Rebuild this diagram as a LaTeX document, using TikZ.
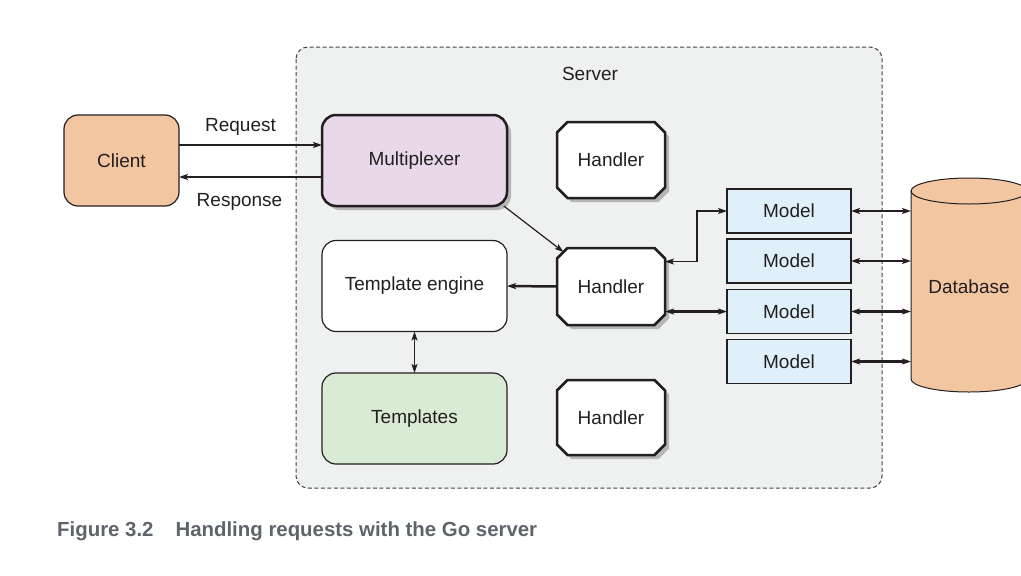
\documentclass[tikz,border=0pt]{standalone}
\usepackage{fontspec}
\setmainfont{Liberation Sans}
\usetikzlibrary{shapes.misc,shapes.geometric,arrows.meta,shadows}
\definecolor{ink}{HTML}{231F20}
\definecolor{srvfill}{HTML}{EFF0F0}
\definecolor{peach}{HTML}{F2C6A0}
\definecolor{lav}{HTML}{E8D8EA}
\definecolor{mint}{HTML}{D9EBD4}
\definecolor{skyb}{HTML}{DFF0FB}
\definecolor{capgray}{HTML}{5F646B}
\begin{document}
\begin{tikzpicture}[x=1pt,y=-1pt,
  font=\fontsize{19}{22}\selectfont,
  every node/.style={text=ink},
  tip/.style={-{Stealth[length=9pt,width=6pt,inset=2pt]}},
  twotip/.style={{Stealth[length=9pt,width=6pt,inset=2pt]}-{Stealth[length=9pt,width=6pt,inset=2pt]}},
  rbox/.style={draw=ink,rounded corners=14pt,inner sep=0pt,outer sep=0pt,minimum width=185pt,minimum height=91pt},
  hbox/.style={chamfered rectangle,chamfered rectangle xsep=15pt,draw=ink,fill=white,line width=2.5pt,inner sep=0pt,outer sep=0pt,minimum width=108pt,minimum height=76pt,
    drop shadow={shadow xshift=4pt,shadow yshift=-4pt,opacity=0.35,fill=black!70}},
  mbox/.style={draw=ink,fill=skyb,line width=1.3pt,inner sep=0pt,outer sep=0pt,minimum width=124pt,minimum height=44pt},
  conn/.style={draw=ink,line width=1.5pt}
]
\useasboundingbox (0,0) rectangle (1021,576);
% server
\draw[draw=ink!85,fill=srvfill,dashed,dash pattern=on 4pt off 2.5pt,line width=1pt,rounded corners=12pt] (296,47) rectangle (882,488);
\node (srv) at (590,74) {Server};
% client
\node[rbox,fill=peach,line width=1.2pt,minimum width=115pt] (client) at (121.5,160.5) {Client};
% multiplexer
\node[rbox,fill=lav,line width=2.5pt,drop shadow={shadow xshift=4pt,shadow yshift=-4pt,opacity=0.35,fill=black!70}] (mux) at (414.5,160.5) {Multiplexer};
% template engine & templates
\node[rbox,fill=white,line width=1.2pt] (te) at (414.5,286) {Template engine};
\node[rbox,fill=mint,line width=1.2pt] (tpl) at (414.5,418.5) {Templates};
% handlers
\node[hbox] (h1) at (611,160) {Handler};
\node[hbox,minimum height=77pt] (h2) at (611,286.5) {Handler};
\node[hbox,minimum height=75pt] (h3) at (611,417.5) {Handler};
% models
\node[mbox] (m1) at (789,211) {Model};
\node[mbox] (m2) at (789,261) {Model};
\node[mbox] (m3) at (789,311.5) {Model};
\node[mbox] (m4) at (789,361.5) {Model};
% database (cylinder drawn directly)
\path[draw=ink,fill=peach,line width=1pt] (911,191) -- (911,379)
  arc[start angle=180,end angle=360,x radius=58pt,y radius=13pt] -- (1027,191)
  arc[start angle=0,end angle=180,x radius=58pt,y radius=13pt] -- cycle;
\draw[draw=ink,line width=1pt] (911,191) arc[start angle=180,end angle=360,x radius=58pt,y radius=13pt];
\node (db) at (969,287) {Database};
\coordinate (dbw) at (911,287);
% connectors
\draw[conn,tip] ([yshift=15.5pt]client.east) -- ([yshift=15.5pt]mux.west) node[midway,above=5pt,xshift=-10pt] {Request};
\draw[conn,tip] ([yshift=-16.5pt]mux.west) -- ([yshift=-16.5pt]client.east) node[midway,below=12pt,xshift=-11pt] {Response};
\draw[draw=ink,line width=1.2pt,tip] (mux.-27) -- (h2.144);
\draw[draw=ink,line width=2.5pt,tip] (h2.west) -- (te.east);
\draw[draw=ink,line width=1.6pt,twotip] (te.south) -- (tpl.north);
\coordinate (bend) at (697,0);
\draw[draw=ink,line width=1.1pt,twotip] ([yshift=25pt]h2.east) -- ([yshift=25pt]h2.east -| bend) -- (m1.west -| bend) -- (m1.west);
\draw[draw=ink,line width=2.5pt,twotip] (m3.west -| h2.east) -- (m3.west);
\draw[draw=ink,line width=1.7pt,twotip] (m1.east) -- (m1.east -| dbw);
\draw[draw=ink,line width=1.7pt,twotip] (m2.east) -- (m2.east -| dbw);
\draw[draw=ink,line width=2.4pt,twotip] (m3.east) -- (m3.east -| dbw);
\draw[draw=ink,line width=2.4pt,twotip] (m4.east) -- (m4.east -| dbw);
% caption
\node[anchor=west,inner sep=0pt,text=capgray,font=\fontsize{20.4}{24}\selectfont\bfseries] (cap) at (57,531) {Figure 3.2\hspace{22pt}Handling requests with the Go server};
\end{tikzpicture}
\end{document}
